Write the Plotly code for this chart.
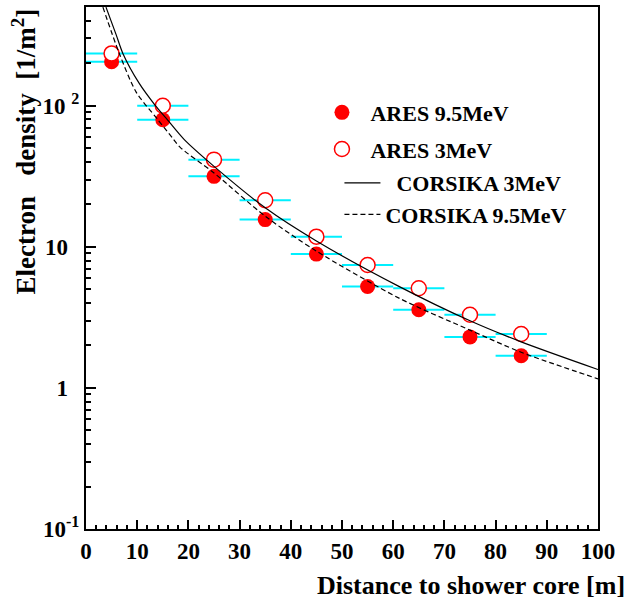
import plotly.graph_objects as go

# ARES data points
dist = [5, 15, 25, 35, 45, 55, 65, 75, 85]
dist_err = [5, 5, 5, 5, 5, 5, 5, 5, 5]
ares_95 = [205, 79.6, 31.6, 15.6, 8.88, 5.24, 3.58, 2.30, 1.69]
ares_3 = [235, 100, 41.5, 21.4, 11.8, 7.43, 5.09, 3.30, 2.41]

# CORSIKA curves
cors3_x = [3.9, 5.9, 7.2, 10.4, 13.4, 15.6, 19.2, 25, 35, 45, 61.3, 75, 85, 100]
cors3_y = [500, 318, 235, 144, 102, 82, 57.5, 37.2, 18.9, 11.0, 5.2, 2.99, 2.12, 1.35]
cors95_x = [3.3, 6.5, 9.8, 14.0, 16.9, 18.4, 25, 35, 45, 61.3, 75, 85, 100]
cors95_y = [500, 235, 125, 80, 59, 50.7, 33.4, 16.5, 9.33, 4.30, 2.57, 1.79, 1.16]

NB = "\u00a0"
y_tickvals = [0.1, 1, 10, 100]
y_ticktext = ["10<sup>-1</sup>", "1" + NB * 2, "10" + NB * 2, "10 <sup>2</sup>"]

FONT = "Liberation Serif"
CYAN = "#00f0ff"
RED = "#ff0000"

fig = go.Figure()

fig.add_trace(go.Scatter(
    x=dist, y=ares_95, mode="markers", name=NB + "ARES 9.5MeV",
    legend="legend", legendgroup="a",
    marker=dict(symbol="circle", size=15, color=RED, line=dict(width=0)),
    error_x=dict(type="data", array=dist_err, color=CYAN, thickness=2, width=0),
))
fig.add_trace(go.Scatter(
    x=dist, y=ares_3, mode="markers", name=NB + "ARES 3MeV",
    legend="legend", legendgroup="b",
    marker=dict(symbol="circle", size=15, color="white", line=dict(width=1.5, color=RED)),
    error_x=dict(type="data", array=dist_err, color=CYAN, thickness=2, width=0),
))
fig.add_trace(go.Scatter(
    x=cors3_x, y=cors3_y, mode="lines", name=NB + NB + "CORSIKA 3MeV",
    legend="legend2", legendgroup="c",
    line=dict(color="black", width=1.2, shape="spline", smoothing=0.8),
))
fig.add_trace(go.Scatter(
    x=cors95_x, y=cors95_y, mode="lines", name="CORSIKA 9.5MeV",
    legend="legend2", legendgroup="d",
    line=dict(color="black", width=1.2, dash="5px,3px", shape="spline", smoothing=0.8),
))

legend_font = dict(family=FONT, size=22, color="black", weight="bold")
fig.update_layout(
    width=630, height=601,
    margin=dict(l=86, r=32, t=5, b=72),
    paper_bgcolor="white", plot_bgcolor="white",
    font=dict(family=FONT, size=22, color="black", weight="bold"),
    showlegend=True,
    legend=dict(
        x=0.455, y=0.838, xanchor="left", yanchor="top",
        bgcolor="rgba(0,0,0,0)", borderwidth=0,
        font=legend_font, itemwidth=36, tracegroupgap=5,
    ),
    legend2=dict(
        x=0.495, y=0.703, xanchor="left", yanchor="top",
        bgcolor="rgba(0,0,0,0)", borderwidth=0,
        font=legend_font, itemwidth=36, tracegroupgap=0,
    ),
)

fig.update_xaxes(
    range=[0, 100], showgrid=False, zeroline=False,
    showline=True, linecolor="black", linewidth=2, mirror=True,
    ticks="inside", ticklen=9, tickwidth=1.5, tickcolor="black",
    tick0=0, dtick=10,
    minor=dict(ticks="inside", ticklen=4, tickwidth=1.5, tickcolor="black", dtick=2, showgrid=False),
    tickfont=dict(family=FONT, size=23, weight="bold"),
)
fig.update_yaxes(
    type="log", range=[-1, 2.70], showgrid=False, zeroline=False,
    showline=True, linecolor="black", linewidth=2, mirror=True,
    ticks="inside", ticklen=10, tickwidth=1.5, tickcolor="black",
    tickvals=y_tickvals, ticktext=y_ticktext,
    minor=dict(ticks="inside", ticklen=5, tickwidth=1.5, tickcolor="black", dtick="D1", showgrid=False),
    tickfont=dict(family=FONT, size=23, weight="bold"),
    ticklabelstandoff=0,
)

fig.add_annotation(
    text="Distance to shower core [m]", xref="paper", yref="paper",
    x=1.057, y=-0.108, xanchor="right", yanchor="middle", showarrow=False,
    font=dict(family=FONT, size=26, weight="bold"),
)
fig.add_annotation(
    text="Electron" + NB * 3 + "density" + NB * 2 + "[1/m<sup>2</sup>]",
    xref="paper", yref="paper",
    x=-0.122, y=1.0, xanchor="center", yanchor="top", textangle=-90, showarrow=False,
    font=dict(family=FONT, size=27, weight="bold"),
)

fig.write_html("out.html")
